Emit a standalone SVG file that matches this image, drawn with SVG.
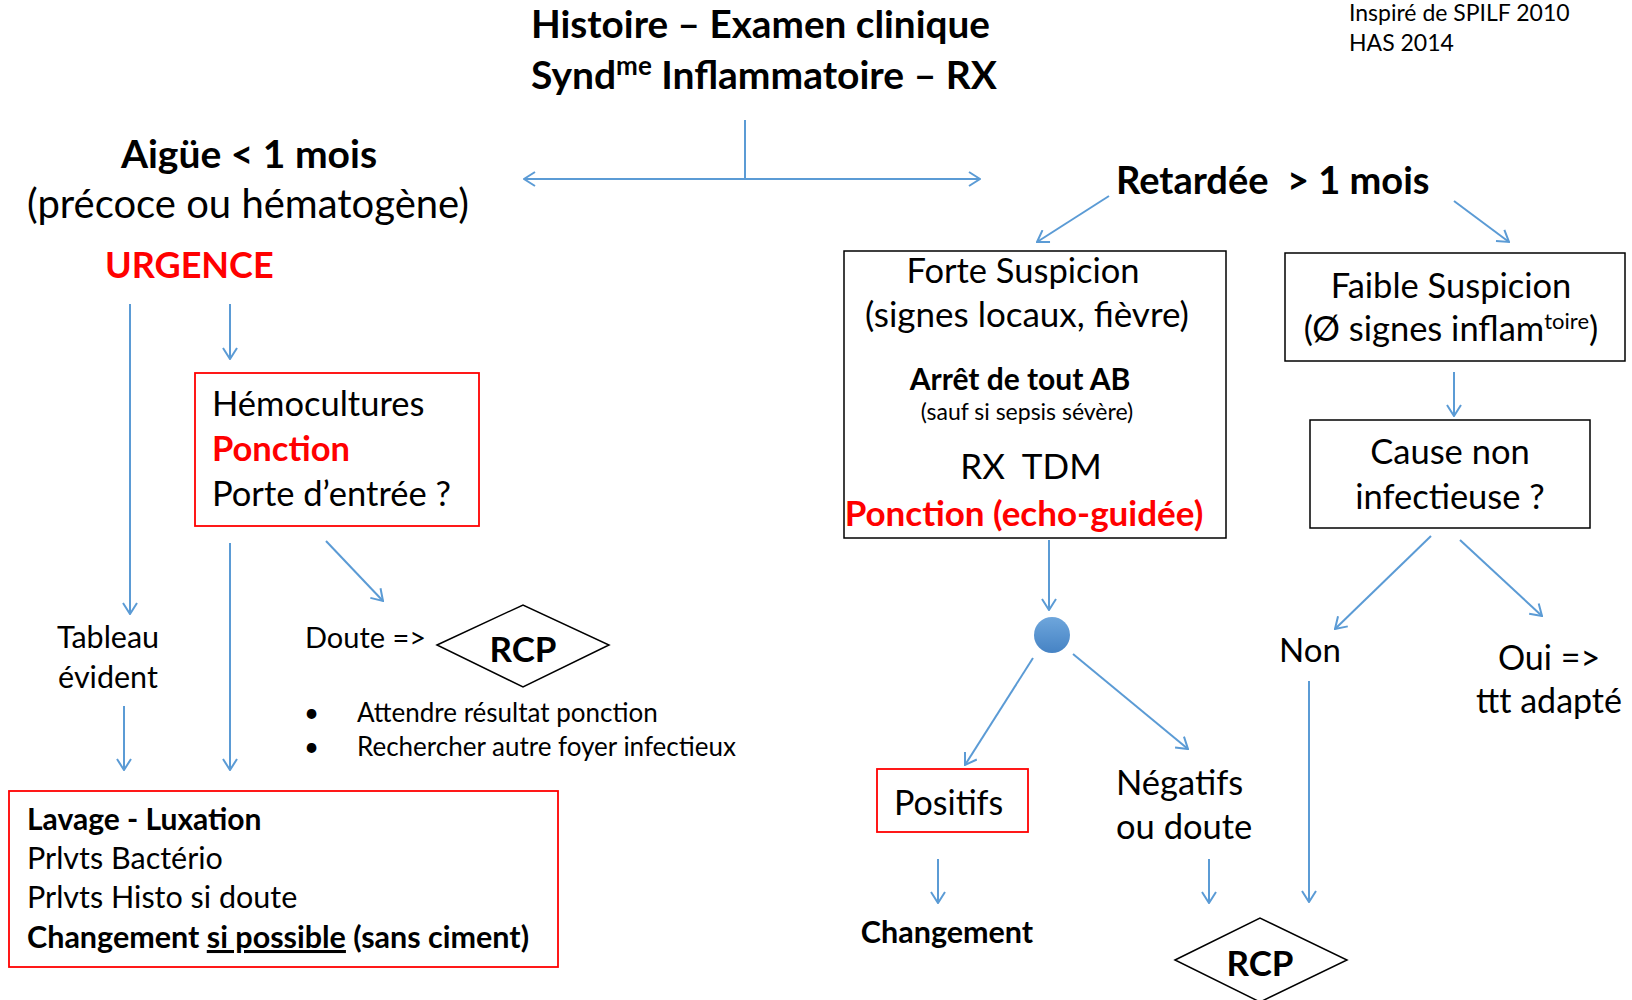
<svg xmlns="http://www.w3.org/2000/svg" width="1632" height="1000" viewBox="0 0 1632 1000">
<style>
text{font-family:Lato,"Open Sans","Liberation Sans",sans-serif;fill:#000}
.b{font-weight:bold}
.red{fill:#ff0000}
.c{text-anchor:middle}
.conn line,.conn path{stroke:#5b9bd5;stroke-width:2;fill:none}
.bx{fill:#fff;stroke:#000;stroke-width:1.5}
.rbx{fill:#fff;stroke:#ff0000;stroke-width:1.8}
.dm{fill:#fff;stroke:#000;stroke-width:1.5}
</style>
<defs>
<marker id="ah" viewBox="0 0 13 16" refX="12" refY="8" markerWidth="13" markerHeight="16" markerUnits="userSpaceOnUse" orient="auto-start-reverse">
<path d="M1,1 L12,8 L1,15" fill="none" stroke="#5b9bd5" stroke-width="2"/>
</marker>
<linearGradient id="gb" x1="0" y1="0" x2="0" y2="1">
<stop offset="0" stop-color="#6ea6dc"/>
<stop offset="1" stop-color="#4683c4"/>
</linearGradient>
</defs>

<g class="conn">
<line x1="745" y1="120" x2="745" y2="179"/>
<line x1="745" y1="179" x2="524" y2="179" marker-end="url(#ah)"/>
<line x1="745" y1="179" x2="980" y2="179" marker-end="url(#ah)"/>
<line x1="130" y1="304" x2="130" y2="614" marker-end="url(#ah)"/>
<line x1="230" y1="304" x2="230" y2="359" marker-end="url(#ah)"/>
<line x1="326" y1="541" x2="383" y2="601" marker-end="url(#ah)"/>
<line x1="230" y1="543" x2="230" y2="770" marker-end="url(#ah)"/>
<line x1="124" y1="706" x2="124" y2="770" marker-end="url(#ah)"/>
<line x1="1109" y1="196" x2="1037" y2="242" marker-end="url(#ah)"/>
<line x1="1454" y1="201" x2="1509" y2="242" marker-end="url(#ah)"/>
<line x1="1049" y1="540" x2="1049" y2="610" marker-end="url(#ah)"/>
<line x1="1033" y1="658" x2="965" y2="765" marker-end="url(#ah)"/>
<line x1="1073" y1="654" x2="1188" y2="749" marker-end="url(#ah)"/>
<line x1="938" y1="859" x2="938" y2="903" marker-end="url(#ah)"/>
<line x1="1209" y1="859" x2="1209" y2="903" marker-end="url(#ah)"/>
<line x1="1454" y1="372" x2="1454" y2="416" marker-end="url(#ah)"/>
<line x1="1431" y1="536" x2="1335" y2="629" marker-end="url(#ah)"/>
<line x1="1460" y1="540" x2="1542" y2="616" marker-end="url(#ah)"/>
<line x1="1309" y1="681" x2="1309" y2="902" marker-end="url(#ah)"/>
</g>

<g id="title">
<text class="b" x="531" y="38" font-size="38.7">Histoire – Examen clinique</text>
<text class="b" x="531" y="89" font-size="39">Synd<tspan dy="-14" font-size="26">me</tspan><tspan dy="14"> Inflammatoire – RX</tspan></text>
</g>
<g id="source">
<text x="1349" y="21" font-size="23">Inspiré de SPILF 2010</text>
<text x="1349" y="51" font-size="23">HAS 2014</text>
</g>

<g id="aigue">
<text class="b c" x="249" y="168" font-size="39">Aigüe &lt; 1 mois</text>
<text class="c" x="248" y="218" font-size="40">(précoce ou hématogène)</text>
<text class="b red" x="105" y="278" font-size="36">URGENCE</text>
</g>

<g id="hemo">
<rect class="rbx" x="195" y="373" width="284" height="153"/>
<text x="212" y="416" font-size="34.5">Hémocultures</text>
<text class="b red" x="212" y="461" font-size="34.5">Ponction</text>
<text x="212" y="506" font-size="34.5">Porte d’entrée ?</text>
</g>

<g id="tableau">
<text class="c" x="108" y="648" font-size="30.5">Tableau</text>
<text class="c" x="108" y="688" font-size="30.5">évident</text>
</g>

<g id="doute">
<text x="305" y="648" font-size="29">Doute =&gt;</text>
</g>

<g id="rcp1">
<polygon class="dm" points="437,645 523,605 609,645 523,687"/>
<text class="b c" x="523" y="662" font-size="35">RCP</text>
</g>

<g id="bullets">
<text x="304" y="722" font-size="26">•</text>
<text x="357" y="722" font-size="26">Attendre résultat ponction</text>
<text x="304" y="756" font-size="26">•</text>
<text x="357" y="756" font-size="26">Rechercher autre foyer infectieux</text>
</g>

<g id="lavage">
<rect class="rbx" x="9" y="791" width="549" height="176"/>
<text class="b" x="27" y="830" font-size="30">Lavage - Luxation</text>
<text x="27" y="869" font-size="30.5">Prlvts Bactério</text>
<text x="27" y="908" font-size="30.5">Prlvts Histo si doute</text>
<text class="b" x="27" y="948" font-size="30.5">Changement <tspan text-decoration="underline">si possible</tspan> (sans ciment)</text>
</g>

<g id="retardee">
<text class="b" x="1116" y="194" font-size="38" xml:space="preserve">Retardée  &gt; 1 mois</text>
</g>

<g id="forte">
<rect class="bx" x="844" y="251" width="382" height="287"/>
<text class="c" x="1023" y="283" font-size="34.5">Forte Suspicion</text>
<text class="c" x="1027" y="327" font-size="35">(signes locaux, fièvre)</text>
<text class="b c" x="1020" y="390" font-size="30">Arrêt de tout AB</text>
<text class="c" x="1027" y="420" font-size="23">(sauf si sepsis sévère)</text>
<text class="c" x="1031" y="479" font-size="35" xml:space="preserve">RX  TDM</text>
<text class="b red c" x="1024" y="526" font-size="35">Ponction (echo-guidée)</text>
</g>

<g id="noeud">
<circle cx="1052" cy="635" r="18" fill="url(#gb)"/>
</g>

<g id="positifs">
<rect class="rbx" x="877" y="769" width="151" height="63"/>
<text x="894" y="815" font-size="34">Positifs</text>
</g>

<g id="changement">
<text class="b c" x="947" y="943" font-size="30.5">Changement</text>
</g>

<g id="negatifs">
<text x="1116" y="795" font-size="34.5">Négatifs</text>
<text x="1116" y="839" font-size="34.5">ou doute</text>
</g>

<g id="rcp2">
<polygon class="dm" points="1175,960 1260,918 1347,960 1260,1002"/>
<text class="b c" x="1260" y="976" font-size="35">RCP</text>
</g>

<g id="faible">
<rect class="bx" x="1285" y="253" width="340" height="108"/>
<text class="c" x="1451" y="298" font-size="34.5">Faible Suspicion</text>
<text class="c" x="1451" y="341" font-size="34.5">(Ø signes inflam<tspan dy="-12" font-size="22">toire</tspan><tspan dy="12">)</tspan></text>
</g>

<g id="cause">
<rect class="bx" x="1310" y="420" width="280" height="108"/>
<text class="c" x="1450" y="464" font-size="34.5">Cause non</text>
<text class="c" x="1450" y="509" font-size="34.5">infectieuse ?</text>
</g>

<g id="non">
<text x="1279" y="662" font-size="33">Non</text>
</g>

<g id="oui">
<text class="c" x="1549" y="670" font-size="34">Oui =&gt;</text>
<text class="c" x="1549" y="713" font-size="34">ttt adapté</text>
</g>
</svg>
